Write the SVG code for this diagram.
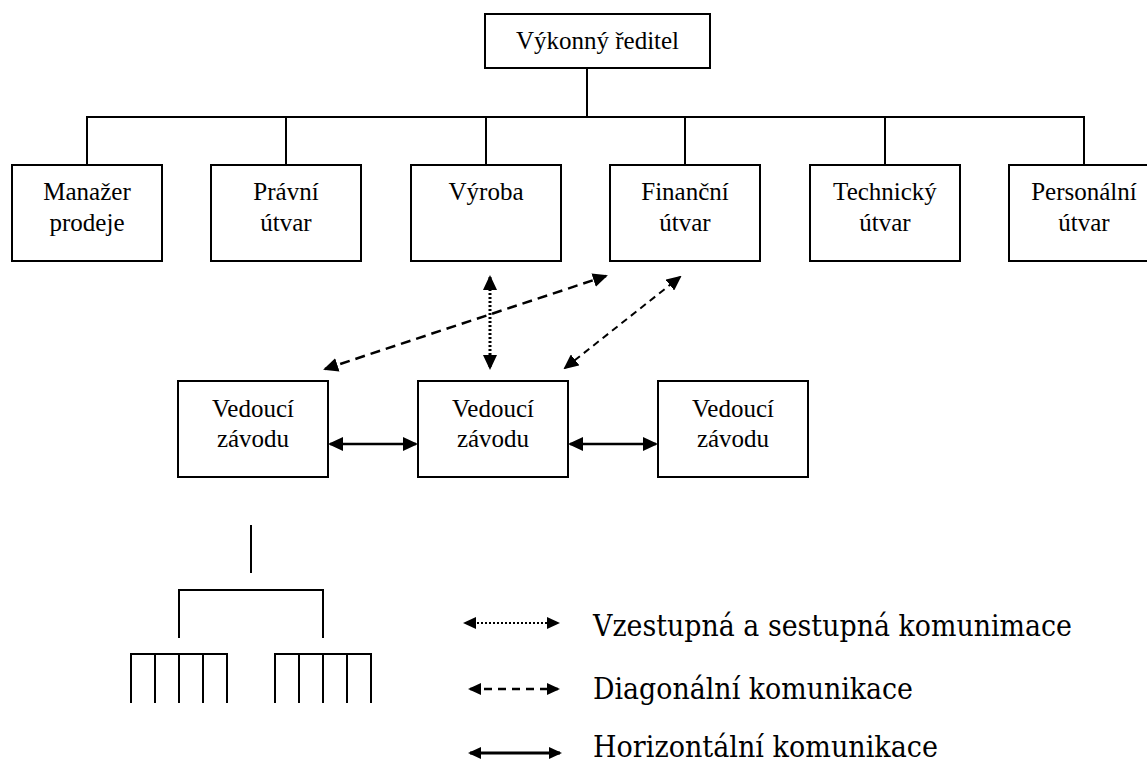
<svg xmlns="http://www.w3.org/2000/svg" width="1147" height="762" viewBox="0 0 1147 762">
  <style>
    .box { fill: #fff; stroke: #000; stroke-width: 2; }
    .lbl { font-family: "Liberation Serif", "Times New Roman", serif; font-size: 25px; fill: #000; text-anchor: middle; }
    .ln { stroke: #000; stroke-width: 2; fill: none; }
    .solid { stroke: #000; stroke-width: 2.5; fill: none; }
    .dash { stroke: #000; stroke-width: 2.5; fill: none; stroke-dasharray: 10 6; }
    .dash2 { stroke: #000; stroke-width: 2; fill: none; stroke-dasharray: 7 5; }
    .dot { stroke: #000; stroke-width: 3; fill: none; stroke-dasharray: 2 2; }
    .leg { font-family: "DejaVu Serif", "Liberation Serif", serif; font-size: 29px; fill: #000; }
  </style>
  <defs>
    <marker id="ah" viewBox="0 0 15 14" markerWidth="15" markerHeight="14" refX="13" refY="7" orient="auto-start-reverse" markerUnits="userSpaceOnUse">
      <path d="M0,0 L15,7 L0,14 z" fill="#000"/>
    </marker>
    <marker id="ahs" viewBox="0 0 13 12" markerWidth="13" markerHeight="12" refX="11" refY="6" orient="auto-start-reverse" markerUnits="userSpaceOnUse">
      <path d="M0,0 L13,6 L0,12 z" fill="#000"/>
    </marker>
  </defs>

  <!-- org tree connectors -->
  <g id="connectors">
    <line class="ln" x1="587" y1="68" x2="587" y2="117"/>
    <line class="ln" x1="86" y1="117" x2="1085" y2="117"/>
    <line class="ln" x1="87" y1="117" x2="87" y2="165"/>
    <line class="ln" x1="286" y1="117" x2="286" y2="165"/>
    <line class="ln" x1="486" y1="117" x2="486" y2="165"/>
    <line class="ln" x1="685" y1="117" x2="685" y2="165"/>
    <line class="ln" x1="885" y1="117" x2="885" y2="165"/>
    <line class="ln" x1="1084" y1="117" x2="1084" y2="165"/>

    <!-- communication arrows -->
    <line class="dot" x1="490" y1="277" x2="490" y2="368" marker-start="url(#ah)" marker-end="url(#ah)"/>
    <line class="dash" x1="325" y1="369" x2="606" y2="276" marker-start="url(#ah)" marker-end="url(#ah)"/>
    <line class="dash2" x1="565" y1="368" x2="680" y2="277" marker-start="url(#ah)" marker-end="url(#ah)"/>
    <line class="solid" x1="330" y1="444" x2="416" y2="444" marker-start="url(#ah)" marker-end="url(#ah)"/>
    <line class="solid" x1="570" y1="444" x2="656" y2="444" marker-start="url(#ah)" marker-end="url(#ah)"/>
  </g>

  <g id="n-ceo">
    <rect class="box" x="485" y="14" width="225" height="54"/>
    <text class="lbl" x="597.5" y="49">Výkonný ředitel</text>
  </g>

  <g id="n-sales">
    <rect class="box" x="12" y="165" width="150" height="96"/>
    <text class="lbl" x="87" y="200">Manažer</text>
    <text class="lbl" x="87" y="231">prodeje</text>
  </g>
  <g id="n-legal">
    <rect class="box" x="211" y="165" width="150" height="96"/>
    <text class="lbl" x="286" y="200">Právní</text>
    <text class="lbl" x="286" y="231">útvar</text>
  </g>
  <g id="n-production">
    <rect class="box" x="411" y="165" width="150" height="96"/>
    <text class="lbl" x="486" y="200">Výroba</text>
  </g>
  <g id="n-finance">
    <rect class="box" x="610" y="165" width="150" height="96"/>
    <text class="lbl" x="685" y="200">Finanční</text>
    <text class="lbl" x="685" y="231">útvar</text>
  </g>
  <g id="n-tech">
    <rect class="box" x="810" y="165" width="150" height="96"/>
    <text class="lbl" x="885" y="200">Technický</text>
    <text class="lbl" x="885" y="231">útvar</text>
  </g>
  <g id="n-hr">
    <rect class="box" x="1009" y="165" width="150" height="96"/>
    <text class="lbl" x="1084" y="200">Personální</text>
    <text class="lbl" x="1084" y="231">útvar</text>
  </g>

  <g id="n-plant1">
    <rect class="box" x="178" y="381" width="150" height="96"/>
    <text class="lbl" x="253" y="417">Vedoucí</text>
    <text class="lbl" x="253" y="447">závodu</text>
  </g>
  <g id="n-plant2">
    <rect class="box" x="418" y="381" width="150" height="96"/>
    <text class="lbl" x="493" y="417">Vedoucí</text>
    <text class="lbl" x="493" y="447">závodu</text>
  </g>
  <g id="n-plant3">
    <rect class="box" x="658" y="381" width="150" height="96"/>
    <text class="lbl" x="733" y="417">Vedoucí</text>
    <text class="lbl" x="733" y="447">závodu</text>
  </g>

  <!-- lower-level sketch tree -->
  <g id="subtree" class="ln">
    <line x1="251" y1="525" x2="251" y2="573"/>
    <polyline points="179,638 179,590 323,590 323,638"/>
    <polyline points="131,703 131,654 227,654 227,703"/>
    <line x1="155" y1="654" x2="155" y2="703"/>
    <line x1="179" y1="654" x2="179" y2="703"/>
    <line x1="203" y1="654" x2="203" y2="703"/>
    <polyline points="275,703 275,654 371,654 371,703"/>
    <line x1="299" y1="654" x2="299" y2="703"/>
    <line x1="323" y1="654" x2="323" y2="703"/>
    <line x1="347" y1="654" x2="347" y2="703"/>
  </g>

  <!-- legend -->
  <g id="legend">
    <line x1="465" y1="623" x2="558" y2="623" stroke="#000" stroke-width="2" stroke-dasharray="2 2" marker-start="url(#ahs)" marker-end="url(#ahs)"/>
    <text class="leg" x="593" y="636" textLength="479" lengthAdjust="spacingAndGlyphs">Vzestupná a sestupná komunimace</text>
    <line x1="470" y1="689" x2="558" y2="689" stroke="#000" stroke-width="2.5" stroke-dasharray="8 6" marker-start="url(#ahs)" marker-end="url(#ahs)"/>
    <text class="leg" x="593" y="699" textLength="320" lengthAdjust="spacingAndGlyphs">Diagonální komunikace</text>
    <line x1="470" y1="753" x2="560" y2="753" stroke="#000" stroke-width="3" marker-start="url(#ahs)" marker-end="url(#ahs)"/>
    <text class="leg" x="593" y="757" textLength="345" lengthAdjust="spacingAndGlyphs">Horizontální komunikace</text>
  </g>
</svg>
